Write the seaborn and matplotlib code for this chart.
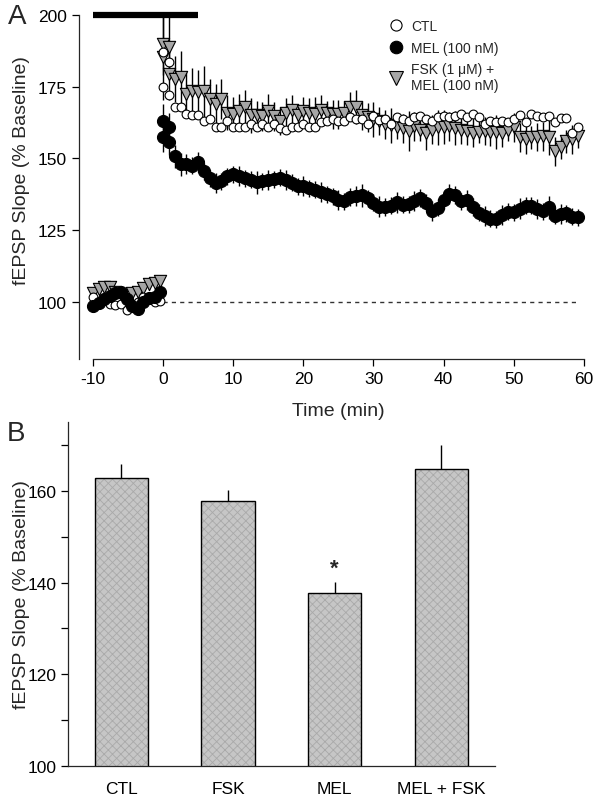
import numpy as np
import pandas as pd
import matplotlib
matplotlib.use("Agg")
import matplotlib.pyplot as plt
from matplotlib.patches import Rectangle
from matplotlib.lines import Line2D
import seaborn as sns

# ---- panel A data: time course (min) ----
base_t = [-10, -9.2, -8.4, -7.6, -6.8, -6.0, -5.2, -4.4, -3.6, -2.8, -2.0, -1.2, -0.4]
post_t = [0, 0, 0.83, 0.83, 1.67, 2.5, 3.33, 4.17, 5, 5.83, 6.67, 7.5, 8.33, 9.17,
          10, 10.83, 11.67, 12.5, 13.33, 14.17, 15, 15.83, 16.67, 17.5, 18.33, 19.17,
          20, 20.83, 21.67, 22.5, 23.33, 24.17, 25, 25.83, 26.67, 27.5, 28.33, 29.17,
          30, 30.83, 31.67, 32.5, 33.33, 34.17, 35, 35.83, 36.67, 37.5, 38.33, 39.17,
          40, 40.83, 41.67, 42.5, 43.33, 44.17, 45, 45.83, 46.67, 47.5, 48.33, 49.17,
          50, 50.83, 51.67, 52.5, 53.33, 54.17, 55, 55.83, 56.67, 57.5, 58.33, 59.17]

ctl_base = [101.7, 99.3, 101.4, 99.3, 99, 99.3, 97.2, 99.3, 100, 101.7, 101.4, 100, 100.3]
ctl_post = [187, 175, 183.5, 172,
            167.8, 167.8, 165.4, 165, 165, 163, 163.6, 161, 160.8, 163,
            161, 161, 161, 162, 160.8, 162, 161, 162, 160.5, 160,
            160.8, 161, 161.9, 160.8, 160.8, 162.6, 163, 163.6, 163, 163,
            164.3, 163.6, 163.6, 161.9, 164.7, 163.3, 163.6, 161.9, 164.3, 163.6,
            163, 164.3, 164.7, 163.6, 163, 164.3, 164.7, 164.3, 164.7, 165.4,
            164.3, 165.4, 164.3, 161.9, 163, 162.6, 163, 162.6, 163.6, 165,
            162.6, 165.4, 164.7, 164.3, 164.7, 162.6, 164, 164, 159, 160.8]

mel_base = [98.6, 99.5, 101, 102, 103, 103.5, 101, 98.5, 97.6, 100, 101.4, 101.5, 103.5]
mel_base_err = [1.5, 2, 1.5, 2, 1.5, 2, 2, 1.5, 2, 1.5, 2, 1.5, 2]
mel_post = [163, 157.3, 160.8, 155.6,
            150.7, 148, 147.9, 147.5, 148.6, 145.5, 143, 141.5, 142, 143.7,
            144.4, 143.8, 143, 142.5, 141.6, 142, 142.5, 142.7, 143.3, 142.5,
            141.5, 140.2, 140.2, 139.5, 139, 138.3, 137.5, 136.7, 135.5, 135,
            136.5, 137, 137.2, 136, 134.5, 133.2, 133, 133.5, 134.6, 133.8,
            134, 135, 136.2, 134.5, 131.5, 132.8, 135.5, 137.5, 137.2, 135,
            135.5, 133, 131, 129.8, 129, 128.8, 130.2, 131.4, 131.2, 132.5,
            133.5, 133.5, 132.2, 131.5, 132.9, 130, 130.5, 130.8, 129.7, 129.4]
mel_post_err = [6, 5, 5, 4.5,
                4, 4, 3.5, 3, 3.5, 3, 3, 3.5, 3, 3,
                3, 3.5, 3, 3, 4, 3, 3.5, 3, 3, 3.5,
                3, 3, 3.5, 3, 3, 3.5, 3, 3, 3.5, 3,
                3, 3.5, 4, 3, 3, 3.5, 3, 3, 3.5, 3,
                3, 3.5, 3, 3, 3.5, 3, 3, 3.5, 3, 3,
                3.5, 3, 3, 3.5, 3, 3, 3.5, 3, 3, 3.5,
                3, 3, 3.5, 3, 4, 3, 3.5, 3, 3, 3]

fsk_base = [103, 104.5, 105.2, 105, 103.5, 102.4, 101.7, 103, 103.5, 104.9, 106, 106.5, 107.3]
fsk_base_err = [2, 2, 1.5, 2, 2, 1.5, 2, 2, 1.5, 2, 2, 1.5, 2]
fsk_post = [190, 185.3, 188.8, 179.4,
            177.6, 178.3, 172.4, 173.4, 173, 173.4, 170.6, 168.9, 170.6, 166,
            165.4, 166.4, 168, 165, 165, 164.7, 166.4, 164.7, 163, 166,
            167, 165, 166.5, 166, 165.5, 167, 166, 165.4, 165.4, 166,
            168, 168, 165, 164.3, 163.6, 163, 161.9, 161.5, 160.8, 160.5,
            159.5, 161.2, 160, 159, 160, 160.8, 161, 161.2, 160.5, 160,
            159.5, 159, 159.2, 159.5, 159.3, 159.2, 159, 160, 160.8, 157.3,
            156.6, 157.3, 157.5, 157.7, 157.3, 152.5, 153.8, 156, 156.6, 157.7]
fsk_post_err = [11, 15, 11, 9,
                8, 9, 8, 8, 8, 9, 7, 7, 7, 6,
                6, 6, 6, 6, 5, 5, 6, 5, 5, 5,
                5, 4, 5, 5, 6, 5, 4, 5, 5, 4,
                5, 6, 5, 5, 6, 5, 5, 6, 4, 5,
                7, 5, 4, 6, 5, 6, 6, 5, 6, 5,
                5, 5, 4, 5, 5, 6, 5, 4, 5, 5,
                5, 4, 5, 5, 6, 5, 4, 4, 5, 4]

treat_start, treat_end = -10, 5      # drug application bar
series_labels = ["CTL", "MEL (100 nM)", "FSK (1 \u03bcM) +\nMEL (100 nM)"]

# ---- panel B data ----
groups = ["CTL", "FSK", "MEL", "MEL + FSK"]
group_means = [162.9, 157.8, 137.8, 164.8]
group_sem = [3.0, 2.3, 2.3, 5.2]

sns.set_style("ticks")
plt.rcParams["font.family"] = ["Liberation Sans", "DejaVu Sans"]
plt.rcParams["axes.unicode_minus"] = False
plt.rcParams["axes.linewidth"] = 0.9
plt.rcParams["hatch.linewidth"] = 0.6

fig = plt.figure(figsize=(6.02, 8.03), dpi=100)
axA = fig.add_axes([0.131, 0.5517, 0.839, 0.4283])
axB = fig.add_axes([0.113, 0.0448, 0.709, 0.4284])

def draw_series(ax, t, y, err, marker, face, size, z):
    if err is not None:
        ax.errorbar(t, y, yerr=err, fmt="none", ecolor="black", elinewidth=1.0,
                    capsize=0, zorder=z, clip_on=False)
    df = pd.DataFrame({"t": t, "y": y})
    sns.scatterplot(data=df, x="t", y="y", ax=ax, marker=marker, color=face,
                    edgecolor="black", linewidth=0.8, s=size, zorder=z + 0.5,
                    clip_on=False, legend=False)

# FSK first, CTL over it, MEL last
draw_series(axA, base_t + post_t, fsk_base + fsk_post, fsk_base_err + fsk_post_err,
            "v", "#a6a6a6", 78, 2)
draw_series(axA, base_t + post_t, ctl_base + ctl_post, None, "o", "white", 40, 4)
draw_series(axA, base_t + post_t, mel_base + mel_post, mel_base_err + mel_post_err,
            "o", "black", 75, 6)

axA.hlines(100, 0, 59, colors="#333333", linestyles=(0, (3, 3)), linewidth=1, zorder=1)
axA.hlines(200, treat_start, treat_end, colors="black", linewidth=4.5, clip_on=False, zorder=8)

axA.set_xlim(-12, 60)
axA.set_ylim(80, 200)
axA.set_xticks(range(-10, 61, 10))
axA.set_yticks([100, 125, 150, 175, 200])
axA.spines["bottom"].set_bounds(-10, 60)
sns.despine(ax=axA)
axA.tick_params(labelsize=12.5, length=5, width=0.9, direction="out", colors="black")
axA.set_xlabel("Time (min)", fontsize=14, labelpad=10)
axA.xaxis.set_label_coords(0.513, -0.125)
axA.set_ylabel("fEPSP Slope (% Baseline)", fontsize=14)
axA.yaxis.set_label_coords(-0.097, 0.55)

handles = [
    Line2D([], [], linestyle="none", marker="o", markerfacecolor="white",
           markeredgecolor="black", markersize=8, markeredgewidth=0.8),
    Line2D([], [], linestyle="none", marker="o", markerfacecolor="black",
           markeredgecolor="black", markersize=9, markeredgewidth=0.8),
    Line2D([], [], linestyle="none", marker="v", markerfacecolor="#a6a6a6",
           markeredgecolor="black", markersize=9.5, markeredgewidth=0.8),
]
axA.legend(handles, series_labels, loc="upper left", bbox_to_anchor=(0.6, 1.005),
           frameon=False, fontsize=10, handletextpad=0.5, labelspacing=0.55,
           handlelength=1.2, borderaxespad=0)

# ---- panel B ----
sns.barplot(x=groups, y=group_means, ax=axB, color="#c6c6c6", saturation=1,
            width=0.5, linewidth=0, edgecolor="#a9a9a9", zorder=2)
for p in axB.patches:
    p.set_hatch("xxxx")
    axB.add_patch(Rectangle(p.get_xy(), p.get_width(), p.get_height(), fill=False,
                            edgecolor="black", linewidth=1.0, zorder=3))
axB.errorbar(range(len(groups)), group_means, yerr=group_sem, fmt="none",
             ecolor="black", elinewidth=1.0, capsize=0, zorder=1)
mel_i = groups.index("MEL")
axB.text(mel_i, group_means[mel_i] + group_sem[mel_i] + 3.0, "*", ha="center",
         va="center", fontsize=16, fontweight="bold")

axB.set_xlim(-0.5, 3.5)
axB.set_ylim(100, 175)
axB.set_yticks([100, 120, 140, 160])
axB.set_yticks([110, 130, 150, 170], minor=True)
sns.despine(ax=axB)
axB.tick_params(axis="y", which="both", labelsize=12.5, length=5, width=0.9, colors="black")
axB.tick_params(axis="x", length=0, labelsize=12.5, pad=11, colors="black")
axB.set_ylabel("fEPSP Slope (% Baseline)", fontsize=14)
axB.yaxis.set_label_coords(-0.09, 0.5)

fig.text(0.028, 0.979, "A", fontsize=20, ha="center", va="center")
fig.text(0.027, 0.459, "B", fontsize=20, ha="center", va="center")

fig.savefig("out.png", dpi=100)
